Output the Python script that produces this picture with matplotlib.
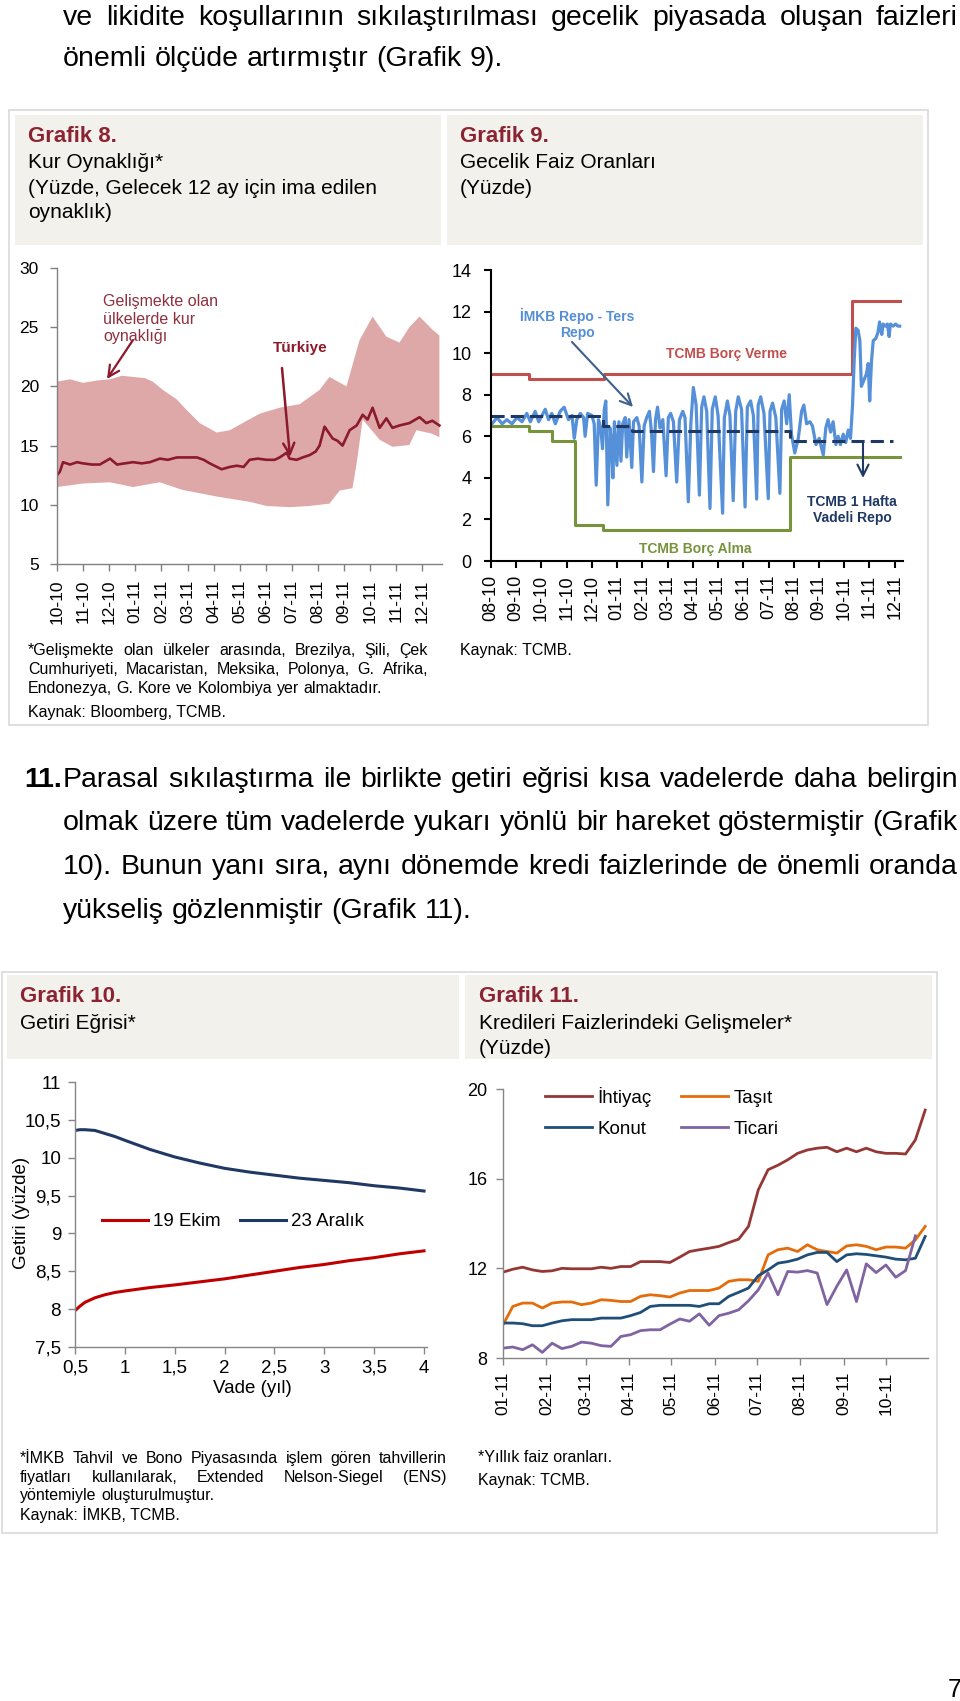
import numpy as np
import pandas as pd
import matplotlib
matplotlib.use("Agg")
import matplotlib.pyplot as plt
from matplotlib.patches import Rectangle, FancyArrowPatch
import matplotlib.dates as mdates

plt.rcParams['font.family'] = 'Liberation Sans'

# ---------------------------------------------------------------- data
# Grafik 8 : months since Oct-2010
g8_labels = ['10-10', '11-10', '12-10', '01-11', '02-11', '03-11', '04-11', '05-11',
             '06-11', '07-11', '08-11', '09-11', '10-11', '11-11', '12-11']
em_up_t = [0.0, 0.5, 1.0, 1.53, 2.03, 2.49, 2.91, 3.37, 3.67, 4.06, 4.59, 4.97, 5.47, 6.12,
           6.62, 7.19, 7.77, 8.53, 9.30, 10.06, 10.44, 11.09, 11.59, 12.09, 12.62, 13.12,
           13.50, 13.89, 14.38, 14.65]
em_up_v = [20.4, 20.6, 20.3, 20.5, 20.6, 20.9, 20.8, 20.7, 20.4, 19.7, 18.9, 18.0, 16.9, 16.1,
           16.3, 17.0, 17.7, 18.2, 18.5, 19.7, 20.8, 20.0, 23.9, 25.9, 24.2, 23.7,
           25.0, 25.9, 24.8, 24.3]
em_lo_t = [0.0, 1.0, 2.03, 2.91, 3.94, 4.82, 6.12, 7.38, 8.03, 8.91, 9.68, 10.44, 10.83,
           11.32, 11.48, 11.71, 12.36, 12.85, 13.50, 13.77, 14.38, 14.65]
em_lo_v = [11.5, 11.8, 11.9, 11.5, 11.9, 11.25, 10.7, 10.25, 9.9, 9.8, 9.9, 10.1, 11.2,
           11.4, 13.5, 17.2, 15.5, 14.9, 15.05, 16.3, 16.0, 15.7]
tr_t = [0.0, 0.11, 0.23, 0.5, 0.77, 0.99, 1.34, 1.64, 2.03, 2.30, 2.60, 2.91, 3.25, 3.56,
        3.94, 4.25, 4.59, 4.97, 5.36, 5.62, 5.85, 6.31, 6.62, 6.89, 7.15, 7.38, 7.69, 8.03,
        8.34, 8.53, 8.80, 8.91, 9.18, 9.41, 9.68, 9.91, 10.06, 10.25, 10.56, 10.75, 10.94,
        11.21, 11.48, 11.71, 11.90, 12.09, 12.36, 12.62, 12.85, 13.12, 13.50, 13.89, 14.15,
        14.38, 14.65]
tr_v = [12.5, 12.8, 13.6, 13.4, 13.6, 13.5, 13.4, 13.4, 13.9, 13.4, 13.5, 13.6, 13.5, 13.6,
        13.9, 13.8, 14.0, 14.0, 14.0, 13.8, 13.5, 13.0, 13.2, 13.3, 13.2, 13.8, 13.9, 13.8,
        13.8, 14.0, 14.4, 13.9, 13.8, 14.0, 14.2, 14.5, 15.0, 16.6, 15.6, 15.4, 15.0,
        16.3, 16.7, 17.6, 17.2, 18.2, 16.5, 17.3, 16.5, 16.7, 16.9, 17.4, 16.9,
        17.1, 16.7]

# Grafik 9 : months since Aug-2010
g9_labels = ['08-10', '09-10', '10-10', '11-10', '12-10', '01-11', '02-11', '03-11', '04-11',
             '05-11', '06-11', '07-11', '08-11', '09-11', '10-11', '11-11', '12-11']
verme_t = [0.0, 1.49, 4.46, 14.31, 16.2]
verme_v = [9.0, 8.75, 9.0, 12.5, 12.5]
repo1w_t = [0.0, 4.42, 5.58, 11.87, 15.94]
repo1w_v = [7.0, 6.5, 6.25, 5.75, 5.75]
alma_t = [0.0, 1.49, 2.41, 3.31, 4.43, 11.87, 16.2]
alma_v = [6.5, 6.25, 5.75, 1.75, 1.5, 5.0, 5.0]
imkb_pairs = [
    (0.04, 6.6), (0.24, 6.9), (0.44, 6.6), (0.63, 6.8), (0.83, 6.6), (1.03, 6.9), (1.23, 6.7),
    (1.42, 7.1), (1.56, 6.7), (1.75, 7.2), (1.89, 6.7), (2.02, 7.0), (2.15, 7.3), (2.28, 6.8),
    (2.41, 7.1), (2.55, 6.6), (2.74, 7.2), (2.90, 7.4), (3.07, 6.8), (3.21, 7.0), (3.30, 5.9),
    (3.40, 6.8), (3.54, 7.1), (3.67, 6.9), (3.73, 6.0), (3.83, 7.1), (4.00, 7.0), (4.09, 6.6),
    (4.17, 3.65), (4.26, 6.8), (4.35, 6.4), (4.42, 5.4), (4.49, 7.3), (4.55, 7.7), (4.63, 2.7),
    (4.72, 6.4), (4.79, 5.5), (4.83, 4.0), (4.89, 6.7), (4.99, 4.6), (5.07, 6.7), (5.15, 4.8),
    (5.22, 6.6), (5.32, 6.9), (5.38, 5.0), (5.47, 6.8), (5.58, 4.5), (5.65, 6.7), (5.78, 6.9),
    (5.87, 6.5), (5.98, 3.8), (6.07, 6.5), (6.17, 6.9), (6.28, 7.2), (6.36, 6.2), (6.44, 4.3),
    (6.52, 6.8), (6.60, 7.4), (6.70, 6.4), (6.81, 6.8), (6.94, 4.1), (7.03, 6.9), (7.12, 7.1),
    (7.23, 6.7), (7.36, 3.8), (7.47, 6.8), (7.60, 7.2), (7.69, 6.9), (7.82, 2.85), (7.92, 6.6),
    (8.02, 8.35), (8.13, 7.5), (8.26, 3.17), (8.35, 7.4), (8.44, 7.9), (8.55, 7.2), (8.68, 2.53),
    (8.77, 7.3), (8.89, 7.9), (9.00, 7.0), (9.18, 2.3), (9.25, 6.9), (9.37, 7.7), (9.47, 7.0),
    (9.60, 2.9), (9.70, 7.2), (9.80, 7.9), (9.93, 7.3), (10.07, 2.6), (10.16, 7.4), (10.29, 7.7),
    (10.40, 7.0), (10.53, 2.98), (10.59, 7.5), (10.69, 7.9), (10.82, 7.1), (10.99, 3.0),
    (11.06, 7.2), (11.16, 7.6), (11.29, 6.9), (11.45, 3.26), (11.52, 7.3), (11.62, 7.7),
    (11.72, 6.6), (11.82, 8.0), (11.91, 6.1), (12.04, 5.2), (12.18, 5.9), (12.31, 7.2),
    (12.40, 7.5), (12.51, 6.6), (12.64, 6.7), (12.74, 6.5), (12.88, 5.6), (13.01, 5.9),
    (13.17, 5.1), (13.27, 6.4), (13.36, 6.8), (13.46, 6.2), (13.56, 6.7), (13.67, 5.6),
    (13.76, 6.0), (13.85, 5.6), (13.96, 6.1), (14.06, 5.7), (14.16, 6.3), (14.25, 5.9),
    (14.33, 7.5), (14.39, 9.5), (14.46, 11.2), (14.55, 11.1), (14.62, 10.6), (14.68, 8.4),
    (14.78, 8.7), (14.88, 9.0), (14.95, 9.5), (15.01, 7.7), (15.08, 9.6), (15.15, 10.6),
    (15.25, 10.7), (15.34, 11.0), (15.40, 11.5), (15.49, 10.9), (15.54, 11.4), (15.63, 11.3),
    (15.71, 11.4), (15.78, 10.8), (15.83, 11.4), (15.94, 11.3), (16.04, 11.4), (16.13, 11.3),
    (16.20, 11.3)]
imkb_t = [p[0] for p in imkb_pairs]
imkb_v = [p[1] for p in imkb_pairs]

# Grafik 10 : yield curve
vade = [0.5, 0.55, 0.6, 0.7, 0.8, 0.9, 1.0, 1.25, 1.5, 1.75, 2.0, 2.25, 2.5, 2.75, 3.0,
        3.25, 3.5, 3.75, 4.0]
ekim19 = [7.98, 8.04, 8.09, 8.15, 8.19, 8.22, 8.24, 8.285, 8.32, 8.36, 8.40, 8.45, 8.50,
          8.55, 8.59, 8.64, 8.68, 8.73, 8.77]
aralik23 = [10.36, 10.37, 10.37, 10.36, 10.32, 10.28, 10.23, 10.11, 10.01, 9.93, 9.86, 9.81,
            9.77, 9.73, 9.70, 9.67, 9.63, 9.60, 9.56]
g10_xticks = [0.5, 1, 1.5, 2, 2.5, 3, 3.5, 4]
g10_xlabels = ['0,5', '1', '1,5', '2', '2,5', '3', '3,5', '4']
g10_yticks = [7.5, 8, 8.5, 9, 9.5, 10, 10.5, 11]
g10_ylabels = ['7,5', '8', '8,5', '9', '9,5', '10', '10,5', '11']

# Grafik 11 : weekly loan rates 2011
g11_dates = pd.date_range('2011-01-01', periods=44, freq='7D')
ihtiyac = [11.83, 11.96, 12.05, 11.93, 11.86, 11.89, 12.0, 11.98, 11.98, 11.98,
           12.05, 12.0, 12.08, 12.08, 12.3, 12.3, 12.3, 12.26, 12.5, 12.75,
           12.83, 12.9, 12.98, 13.15, 13.3, 13.87, 15.5, 16.4, 16.6, 16.84,
           17.13, 17.28, 17.36, 17.4, 17.2, 17.36, 17.2, 17.36, 17.2, 17.13,
           17.13, 17.1, 17.73, 19.06]
tasit = [9.48, 10.3, 10.45, 10.45, 10.23, 10.45, 10.5, 10.5, 10.38, 10.45,
         10.6, 10.57, 10.52, 10.52, 10.75, 10.82, 10.78, 10.72, 10.9, 11.01,
         11.01, 11.01, 11.12, 11.42, 11.49, 11.49, 11.42, 12.6, 12.83, 12.9,
         12.75, 13.05, 12.83, 12.75, 12.68, 13.0, 13.05, 12.98, 12.83, 12.95,
         12.95, 12.9, 13.27, 13.87]
konut = [9.56, 9.56, 9.53, 9.44, 9.44, 9.56, 9.66, 9.71, 9.71, 9.71,
         9.78, 9.78, 9.78, 9.89, 10.03, 10.3, 10.35, 10.35, 10.35, 10.35,
         10.3, 10.42, 10.42, 10.75, 10.93, 11.12, 11.67, 11.93, 12.23, 12.3,
         12.41, 12.6, 12.71, 12.71, 12.3, 12.6, 12.65, 12.62, 12.56, 12.5,
         12.41, 12.38, 12.45, 13.42]
ticari = [8.44, 8.49, 8.37, 8.59, 8.25, 8.66, 8.42, 8.52, 8.71, 8.66,
          8.55, 8.52, 8.96, 9.04, 9.22, 9.26, 9.26, 9.51, 9.74, 9.64,
          9.97, 9.46, 9.89, 10.0, 10.15, 10.55, 11.04, 11.79, 10.82, 11.86,
          11.83, 11.9, 11.79, 10.38, 11.2, 11.93, 10.52, 12.2, 11.81, 12.15,
          11.6, 11.9, 13.45, np.nan]

# ---------------------------------------------------------------- texts
top_l1 = "ve likidite koşullarının sıkılaştırılması gecelik piyasada oluşan faizleri"
top_l2 = "önemli ölçüde artırmıştır (Grafik 9)."
par_l1 = "Parasal sıkılaştırma ile birlikte getiri eğrisi kısa vadelerde daha belirgin"
par_l2 = "olmak üzere tüm vadelerde yukarı yönlü bir hareket göstermiştir (Grafik"
par_l3 = "10). Bunun yanı sıra, aynı dönemde kredi faizlerinde de önemli oranda"
par_l4 = "yükseliş gözlenmiştir (Grafik 11)."

# ---------------------------------------------------------------- setup
W, H = 960, 1701
fig = plt.figure(figsize=(W / 100, H / 100), dpi=100)
fig.patch.set_facecolor('white')
R = fig.canvas.get_renderer()

TITLE_RED = '#8b2332'
BOX = '#f3f1ec'
FRAME = '#d9d9d9'


def FX(x):
    return x / W


def FY(y):
    return 1 - y / H


def add_ax(x0, y0, x1, y1):
    return fig.add_axes([x0 / W, 1 - y1 / H, (x1 - x0) / W, (y1 - y0) / H])


def txt(x, y, s, **kw):
    kw.setdefault('va', 'center')
    return fig.text(FX(x), FY(y), s, **kw)


def rect(x0, y0, x1, y1, **kw):
    r = Rectangle((FX(x0), FY(y1)), (x1 - x0) / W, (y1 - y0) / H,
                  transform=fig.transFigure, **kw)
    fig.add_artist(r)


def arrow(x0, y0, x1, y1, color, lw=1.6, ms=18):
    a = FancyArrowPatch((FX(x0), FY(y0)), (FX(x1), FY(y1)), transform=fig.transFigure,
                        arrowstyle='->', mutation_scale=ms, color=color, lw=lw,
                        shrinkA=0, shrinkB=0)
    fig.add_artist(a)


def line_words(s, x0, y, x1=None, size=11.5, weight='normal', color='black'):
    """Draw one line of text; if x1 is given the words are justified to [x0, x1]."""
    words = s.split(' ')
    ts = [fig.text(0, 0, w, fontsize=size, fontweight=weight, color=color,
                   va='baseline', ha='left') for w in words]
    ws = [t.get_window_extent(R).width for t in ts]
    sp = size * 100 / 72 * 0.278
    if x1 is not None and len(words) > 1:
        if sum(ws) + (len(words) - 1) * sp * 0.8 > x1 - x0:
            size2 = size * (x1 - x0 - (len(words) - 1) * sp * 0.8) / sum(ws)
            for t in ts:
                t.set_fontsize(size2)
            ws = [t.get_window_extent(R).width for t in ts]
        gap = (x1 - x0 - sum(ws)) / (len(words) - 1)
    else:
        gap = sp
    base = y + size * 100 / 72 * 0.30   # baseline below the visual centre
    x = x0
    for t, w in zip(ts, ws):
        t.set_position((FX(x), FY(base)))
        x += w + gap


def style_axes(ax, color, lw=1.0, labelsize=12.5, tlen=4):
    for s in ['top', 'right']:
        ax.spines[s].set_visible(False)
    for s in ['left', 'bottom']:
        ax.spines[s].set_color(color)
        ax.spines[s].set_linewidth(lw)
    ax.tick_params(axis='both', direction='out', length=tlen, width=lw, color=color,
                   labelsize=labelsize, labelcolor='black')
    ax.set_facecolor('none')


# ---------------------------------------------------------------- body text
BODY_SIZE = 20.5
line_words(top_l1, 63, 16, 958, size=BODY_SIZE)
line_words(top_l2, 63, 57, None, size=BODY_SIZE)
line_words('11.', 24, 778, None, size=BODY_SIZE, weight='bold')
line_words(par_l1, 63, 778, 958, size=BODY_SIZE)
line_words(par_l2, 63, 821, 958, size=BODY_SIZE)
line_words(par_l3, 63, 865, 958, size=BODY_SIZE)
line_words(par_l4, 63, 909, None, size=BODY_SIZE)
txt(948, 1690, '7', fontsize=18)

# ---------------------------------------------------------------- frames
rect(9, 110, 928, 725, facecolor='none', edgecolor=FRAME, lw=1.2)
rect(15, 115, 441, 245, facecolor=BOX, edgecolor='none')
rect(447, 115, 923, 245, facecolor=BOX, edgecolor='none')
rect(2, 972, 937, 1533, facecolor='none', edgecolor=FRAME, lw=1.2)
rect(7, 975, 459, 1059, facecolor=BOX, edgecolor='none')
rect(465, 975, 932, 1059, facecolor=BOX, edgecolor='none')

# titles
txt(28, 137, 'Grafik 8.', fontsize=16, fontweight='bold', color=TITLE_RED)
txt(28, 163, 'Kur Oynaklığı*', fontsize=15)
txt(28, 188, '(Yüzde, Gelecek 12 ay için ima edilen', fontsize=15)
txt(28, 212, 'oynaklık)', fontsize=15)
txt(460, 137, 'Grafik 9.', fontsize=16, fontweight='bold', color=TITLE_RED)
txt(460, 163, 'Gecelik Faiz Oranları', fontsize=15)
txt(460, 188, '(Yüzde)', fontsize=15)
txt(20, 997, 'Grafik 10.', fontsize=16, fontweight='bold', color=TITLE_RED)
txt(20, 1023, 'Getiri Eğrisi*', fontsize=15)
txt(479, 997, 'Grafik 11.', fontsize=16, fontweight='bold', color=TITLE_RED)
txt(479, 1023, 'Kredileri Faizlerindeki Gelişmeler*', fontsize=15)
txt(479, 1048, '(Yüzde)', fontsize=15)

# ---------------------------------------------------------------- Grafik 8
ax8 = add_ax(57, 268, 442, 564)
ax8.fill(list(em_up_t) + list(em_lo_t[::-1]), list(em_up_v) + list(em_lo_v[::-1]),
         color='#dfa8a8', lw=0)
ax8.plot(tr_t, tr_v, color='#8b1a2c', lw=1.9)
ax8.set_xlim(0, 14.75)
ax8.set_ylim(5, 30)
ax8.set_yticks([5, 10, 15, 20, 25, 30])
ax8.set_xticks(range(len(g8_labels)))
ax8.set_xticklabels(g8_labels, rotation=90)
style_axes(ax8, '#808080', lw=1.0, labelsize=12.5, tlen=5)
ax8.tick_params(axis='x', pad=6)
ax8.tick_params(axis='y', pad=8)

txt(103, 319, 'Gelişmekte olan\nülkelerde kur\noynaklığı', fontsize=11.5, color='#8e3040',
    linespacing=1.2, ha='left')
arrow(133, 340, 107, 379, '#8b1a2c', lw=1.6, ms=20)
txt(300, 348, 'Türkiye', fontsize=11, fontweight='bold', color='#8b1a2c', ha='center')
arrow(282, 368, 290, 457, '#8b1a2c', lw=1.8, ms=20)

line_words('*Gelişmekte olan ülkeler arasında, Brezilya, Şili, Çek', 28, 650, 428, size=11.5)
line_words('Cumhuriyeti, Macaristan, Meksika, Polonya, G. Afrika,', 28, 669, 428, size=11.5)
line_words('Endonezya, G. Kore ve Kolombiya yer almaktadır.', 28, 688, None, size=11.5)
txt(28, 712, 'Kaynak: Bloomberg, TCMB.', fontsize=11.5)

# ---------------------------------------------------------------- Grafik 9
ax9 = add_ax(491, 270, 903, 561)
ax9.plot(verme_t, verme_v, drawstyle='steps-post', color='#c0504d', lw=2.2)
ax9.plot(alma_t, alma_v, drawstyle='steps-post', color='#77933c', lw=2.2)
ax9.plot(imkb_t, imkb_v, color='#5590d8', lw=2.3, solid_joinstyle='round')
ax9.plot(repo1w_t, repo1w_v, drawstyle='steps-post', color='#1f3864', lw=2.2,
         dashes=(4.3, 2.0))
ax9.set_xlim(0, 16.33)
ax9.set_ylim(0, 14)
ax9.set_yticks([0, 2, 4, 6, 8, 10, 12, 14])
ax9.set_xticks(range(len(g9_labels)))
ax9.set_xticklabels(g9_labels, rotation=90)
style_axes(ax9, 'black', lw=1.5, labelsize=13, tlen=5)
ax9.tick_params(axis='x', pad=5)
ax9.tick_params(axis='y', pad=9)

txt(577, 324, 'İMKB Repo - Ters\nRepo', fontsize=10, fontweight='bold', color='#558ed5',
    ha='center', multialignment='center', linespacing=1.15)
arrow(572, 342, 633, 407, '#3f5f8c', lw=1.5, ms=20)
txt(726, 354, 'TCMB Borç Verme', fontsize=10, fontweight='bold', color='#c0504d', ha='center')
txt(852, 510, 'TCMB 1 Hafta\nVadeli Repo', fontsize=10, fontweight='bold', color='#1f3864',
    ha='center', multialignment='center', linespacing=1.15)
arrow(863, 441, 863, 478, '#1f3864', lw=1.5, ms=20)
txt(695, 549, 'TCMB Borç Alma', fontsize=10, fontweight='bold', color='#77933c', ha='center')
txt(460, 650, 'Kaynak: TCMB.', fontsize=11.5)

# ---------------------------------------------------------------- Grafik 10
ax10 = add_ax(75, 1082, 427, 1347)
ax10.plot(vade, ekim19, color='#c00000', lw=2.2, label='19 Ekim')
ax10.plot(vade, aralik23, color='#1f3864', lw=2.2, label='23 Aralık')
ax10.set_xlim(0.5, 4.03)
ax10.set_ylim(7.5, 11)
ax10.set_xticks(g10_xticks)
ax10.set_xticklabels(g10_xlabels)
ax10.set_yticks(g10_yticks)
ax10.set_yticklabels(g10_ylabels)
style_axes(ax10, '#868686', lw=1.0, labelsize=13.5, tlen=5)
ax10.tick_params(axis='x', pad=4)
ax10.tick_params(axis='y', pad=5)
ax10.legend(loc='center left', bbox_to_anchor=(0.077, 0.472), ncol=2, frameon=False,
            fontsize=13.5, handlelength=2.45, handletextpad=0.27, columnspacing=1.05,
            borderpad=0, borderaxespad=0)
txt(22, 1213, 'Getiri (yüzde)', fontsize=13.5, rotation=90, ha='center')
txt(252, 1388, 'Vade (yıl)', fontsize=13.5, ha='center')

line_words('*İMKB Tahvil ve Bono Piyasasında işlem gören tahvillerin', 20, 1458, 447, size=11.5)
line_words('fiyatları kullanılarak, Extended Nelson-Siegel (ENS)', 20, 1477, 447, size=11.5)
line_words('yöntemiyle oluşturulmuştur.', 20, 1495, None, size=11.5)
txt(20, 1515, 'Kaynak: İMKB, TCMB.', fontsize=11.5)

# ---------------------------------------------------------------- Grafik 11
ax11 = add_ax(503, 1089, 928, 1358)
l1, = ax11.plot(g11_dates, ihtiyac, color='#953735', lw=2.0, label='İhtiyaç')
l2, = ax11.plot(g11_dates, tasit, color='#e46c0a', lw=2.0, label='Taşıt')
l3, = ax11.plot(g11_dates, konut, color='#1f4e79', lw=2.0, label='Konut')
l4, = ax11.plot(g11_dates, ticari, color='#8064a2', lw=2.0, label='Ticari')
ax11.set_xlim(pd.Timestamp('2011-01-01'), pd.Timestamp('2011-10-31'))
ax11.set_ylim(8, 20)
ax11.set_yticks([8, 12, 16, 20])
ax11.set_xticks(pd.date_range('2011-01-01', '2011-10-01', freq='MS'))
ax11.xaxis.set_major_formatter(mdates.DateFormatter('%m-%y'))
plt.setp(ax11.get_xticklabels(), rotation=90, ha='center')
style_axes(ax11, '#868686', lw=1.0, labelsize=13, tlen=5)
ax11.tick_params(axis='x', pad=5, labelsize=12.5)
ax11.tick_params(axis='y', pad=6)
ax11.legend(handles=[l1, l3, l2, l4], loc='center left', bbox_to_anchor=(0.099, 0.913),
            ncol=2, frameon=False, fontsize=13.5, handlelength=2.5, handletextpad=0.27,
            columnspacing=1.6, labelspacing=0.75, borderpad=0, borderaxespad=0)
txt(478, 1458, '*Yıllık faiz oranları.', fontsize=11.5)
txt(478, 1480, 'Kaynak: TCMB.', fontsize=11.5)

fig.savefig('out.png', dpi=100, facecolor='white')
